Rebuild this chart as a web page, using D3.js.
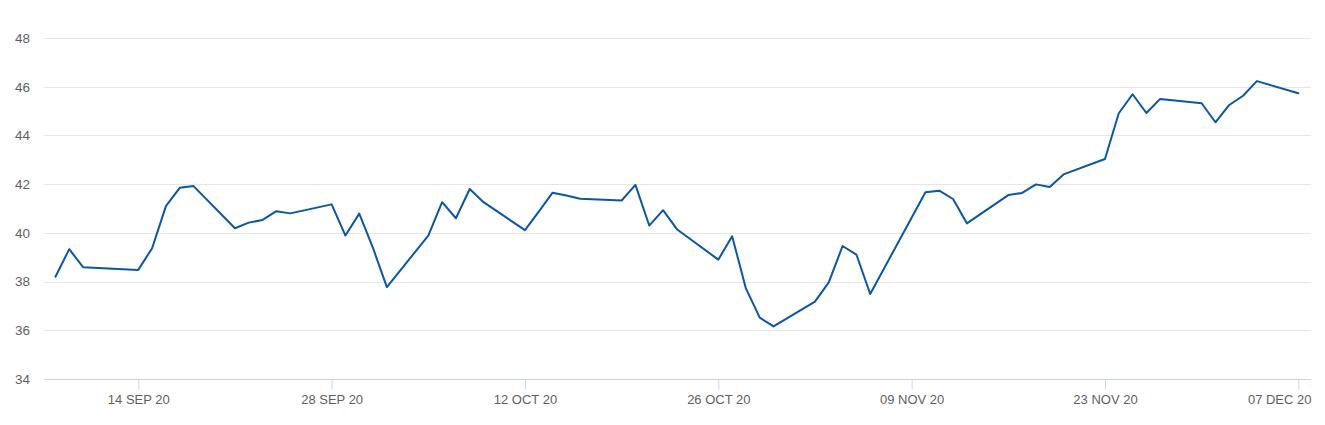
<!DOCTYPE html>
<html>
<head>
<meta charset="utf-8">
<script src="https://cdn.jsdelivr.net/npm/d3@7"></script>
<style>
  html, body { margin: 0; padding: 0; background: #fff; }
  svg { display: block; }
  text { font-family: "Liberation Sans", Arial, sans-serif; }
</style>
</head>
<body>
<svg id="chart" width="1325" height="425"></svg>
<script>
// ---- data ----
const dates = [
  "2020-09-08","2020-09-09","2020-09-10","2020-09-14","2020-09-15","2020-09-16","2020-09-17","2020-09-18",
  "2020-09-21","2020-09-22","2020-09-23","2020-09-24","2020-09-25",
  "2020-09-28","2020-09-29","2020-09-30","2020-10-01","2020-10-02",
  "2020-10-05","2020-10-06","2020-10-07","2020-10-08","2020-10-09",
  "2020-10-12","2020-10-13","2020-10-14","2020-10-15","2020-10-16",
  "2020-10-19","2020-10-20","2020-10-21","2020-10-22","2020-10-23",
  "2020-10-26","2020-10-27","2020-10-28","2020-10-29","2020-10-30",
  "2020-11-02","2020-11-03","2020-11-04","2020-11-05","2020-11-06",
  "2020-11-10","2020-11-11","2020-11-12","2020-11-13",
  "2020-11-16","2020-11-17","2020-11-18","2020-11-19","2020-11-20",
  "2020-11-23","2020-11-24","2020-11-25","2020-11-26","2020-11-27",
  "2020-11-30","2020-12-01","2020-12-02","2020-12-03","2020-12-04",
  "2020-12-07"
];
const values = [
  38.20, 39.33, 38.59, 38.48, 39.37, 41.10, 41.85, 41.92,
  40.19, 40.42, 40.53, 40.89, 40.80,
  41.17, 39.89, 40.79, 39.37, 37.77,
  39.89, 41.26, 40.60, 41.80, 41.26,
  40.11, 40.87, 41.65, 41.53, 41.40,
  41.33, 41.97, 40.30, 40.93, 40.15,
  38.90, 39.86, 37.72, 36.52, 36.16,
  37.18, 37.97, 39.46, 39.11, 37.49,
  41.67, 41.73, 41.39, 40.39,
  41.55, 41.64, 41.99, 41.88, 42.40,
  43.03, 44.91, 45.69, 44.92, 45.50,
  45.32, 44.54, 45.25, 45.63, 46.23,
  45.73
];
const yTicks = [34, 36, 38, 40, 42, 44, 46, 48];
const xTickDates = ["2020-09-14","2020-09-28","2020-10-12","2020-10-26","2020-11-09","2020-11-23","2020-12-07"];
const xTickLabels = ["14 SEP 20","28 SEP 20","12 OCT 20","26 OCT 20","09 NOV 20","23 NOV 20","07 DEC 20"];

// ---- layout ----
const plotLeft = 44, plotRight = 1311, plotTop = 38, plotBottom = 379;
const parse = d3.utcParse("%Y-%m-%d");
const data = dates.map((d, i) => ({ date: parse(d), value: values[i] }));

const t0 = parse("2020-09-14"), t1 = parse("2020-12-07");
const x0 = 138.3, x1 = 1298.3;
const pxPerMs = (x1 - x0) / (t1 - t0);
const x = d3.scaleUtc()
  .domain([new Date(+t0 - (x0 - plotLeft) / pxPerMs), new Date(+t1 + (plotRight - x1) / pxPerMs)])
  .range([plotLeft, plotRight]);
const y = d3.scaleLinear().domain([34, 48]).range([plotBottom, plotTop]);

const svg = d3.select("#chart");

// grid lines
svg.append("g")
  .selectAll("line")
  .data(yTicks.filter(v => v !== 34))
  .join("line")
  .attr("x1", plotLeft).attr("x2", plotRight)
  .attr("y1", d => Math.round(y(d)) + 0.5).attr("y2", d => Math.round(y(d)) + 0.5)
  .attr("stroke", "#e6e6e6").attr("stroke-width", 1);

// y axis labels
const yAxis = d3.axisLeft(y).tickValues(yTicks).tickSize(0).tickPadding(0).tickFormat(d3.format("d"));
const gy = svg.append("g").attr("transform", `translate(30,0)`).call(yAxis);
gy.select(".domain").remove();
gy.selectAll("text")
  .attr("font-size", 13.5).attr("fill", "#5f5f5f")
  .attr("font-family", "'Liberation Sans', Arial, sans-serif");

// x axis
const xAxis = d3.axisBottom(x)
  .tickValues(xTickDates.map(parse))
  .tickSize(10).tickPadding(5)
  .tickFormat((d, i) => xTickLabels[i]);
const gx = svg.append("g").attr("transform", `translate(0,${plotBottom + 0.5})`).call(xAxis);
gx.select(".domain").remove();
gx.append("line")
  .attr("x1", plotLeft).attr("x2", plotRight).attr("y1", 0).attr("y2", 0)
  .attr("stroke", "#ccd6eb").attr("stroke-width", 1);
gx.selectAll(".tick line").attr("stroke", "#ccd6eb");
gx.selectAll("text")
  .attr("font-size", 13).attr("fill", "#5f5f5f")
  .attr("font-family", "'Liberation Sans', Arial, sans-serif");
// keep the last label inside the plot's right edge
gx.selectAll(".tick").each(function(d) {
  const t = d3.select(this).select("text");
  const w = this.querySelector("text").getComputedTextLength();
  const cx = x(d);
  if (cx + w / 2 > plotRight) {
    t.attr("text-anchor", "end").attr("x", plotRight - cx);
  }
});

// line
const line = d3.line().x(d => x(d.date)).y(d => y(d.value));
svg.append("path")
  .datum(data)
  .attr("d", line)
  .attr("fill", "none")
  .attr("stroke", "#0b57a4")
  .attr("stroke-width", 2)
  .attr("stroke-linejoin", "round")
  .attr("stroke-linecap", "round");
</script>
</body>
</html>
